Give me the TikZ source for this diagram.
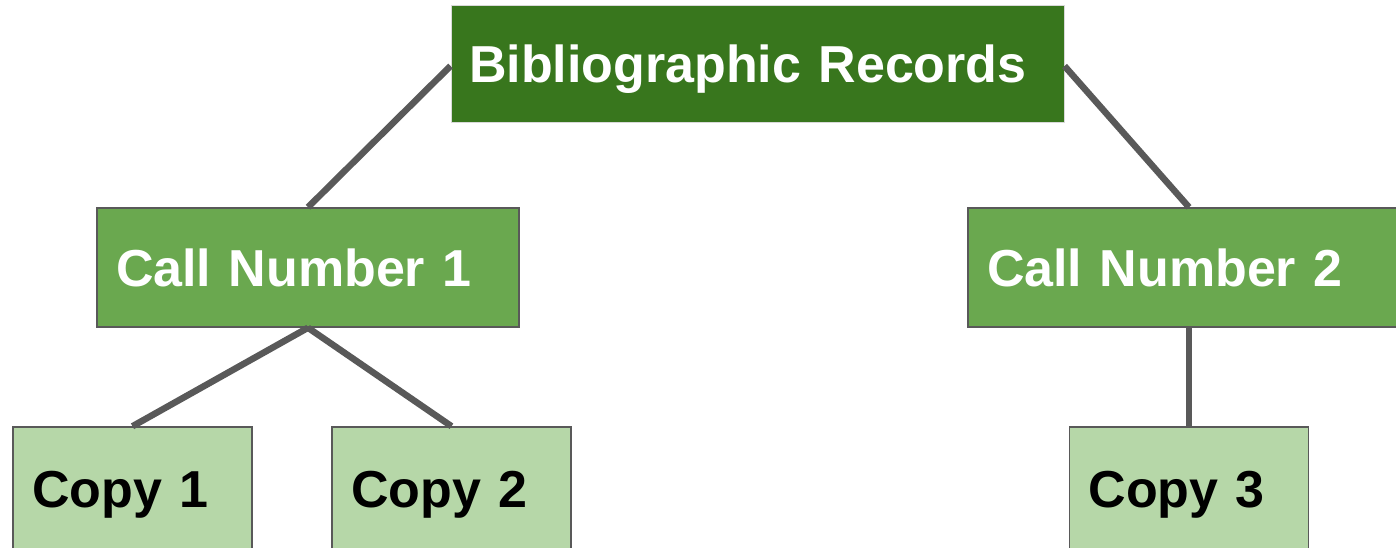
\documentclass[tikz,border=0pt]{standalone}
\usepackage{fontspec}
\setmainfont{Liberation Sans}
\definecolor{darkg}{HTML}{38761D}
\definecolor{midg}{HTML}{6AA84F}
\definecolor{lightg}{HTML}{B6D7A8}
\definecolor{linec}{HTML}{595959}
\begin{document}
\begin{tikzpicture}[x=1pt,y=-1pt,
  box/.style={rectangle, anchor=center, text height=37.5pt, text depth=0pt,
    font=\fontsize{52}{58}\selectfont\bfseries, align=left, inner ysep=0pt},
  topbox/.style={box, fill=darkg, draw=white!85!black, line width=1pt, text=white,
    inner xsep=18pt},
  callbox/.style={box, fill=midg, draw=linec, line width=1.5pt, text=white,
    inner xsep=19pt},
  copybox/.style={box, fill=lightg, draw=linec, line width=1.5pt, text=black,
    inner xsep=19pt},
  conn/.style={draw=linec, line width=6.5pt}]
\useasboundingbox (0,0) rectangle (1396,547);
\node[topbox, minimum width=613pt, minimum height=117pt, text width=577pt] (top) at (757.5,63.5) {Bibliographic Records};
\node[callbox, minimum width=422pt, minimum height=119pt, text width=384pt] (cn1) at (308,267.5) {Call Number 1};
\node[callbox, minimum width=442pt, minimum height=119pt, text width=404pt] (cn2) at (1189,267.5) {Call Number 2};
\node[copybox, minimum width=239pt, minimum height=123pt, text width=201pt] (c1) at (132.5,488.5) {Copy 1};
\node[copybox, minimum width=239pt, minimum height=123pt, text width=201pt] (c2) at (451.5,488.5) {Copy 2};
\node[copybox, minimum width=239pt, minimum height=123pt, text width=201pt] (c3) at (1189,488.5) {Copy 3};
\draw[conn] ([yshift=-2.5pt]top.west) -- (cn1.north);
\draw[conn] ([yshift=-2.5pt]top.east) -- (cn2.north);
\draw[conn] (cn1.south) -- (c1.north);
\draw[conn] (cn1.south) -- (c2.north);
\draw[conn] (cn2.south) -- (c3.north);
\end{tikzpicture}
\end{document}
